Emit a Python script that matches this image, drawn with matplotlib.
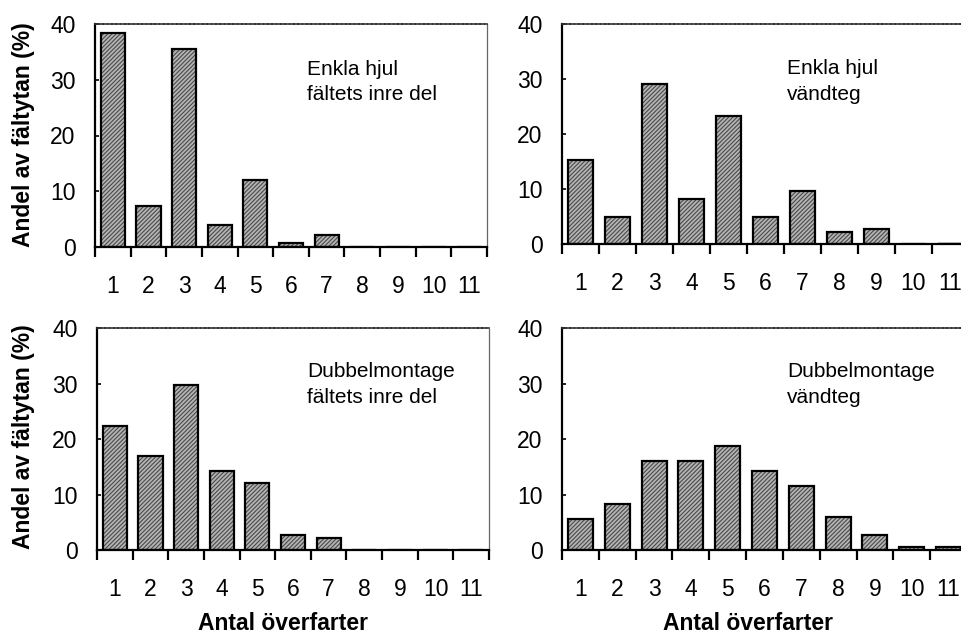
import matplotlib
matplotlib.use("Agg")
import matplotlib.pyplot as plt
import numpy as np

# Number of passes (Antal överfarter)
passes = [1, 2, 3, 4, 5, 6, 7, 8, 9, 10, 11]
tick_labels = [str(p) for p in passes]
y_ticks = [0, 10, 20, 30, 40]

# Share of field area (%) for each wheel type / field zone
enkla_inre = [38.4, 7.3, 35.6, 4.0, 12.0, 0.7, 2.2, 0, 0, 0, 0]
enkla_vandteg = [15.2, 4.9, 29.1, 8.2, 23.3, 4.9, 9.7, 2.2, 2.8, 0, 0]
dubbel_inre = [22.4, 17.0, 29.8, 14.2, 12.1, 2.7, 2.1, 0, 0, 0, 0]
dubbel_vandteg = [5.5, 8.3, 16.1, 16.1, 18.8, 14.3, 11.6, 6.0, 2.7, 0.55, 0.55]

panel_titles = [
    ("Enkla hjul", "fältets inre del"),
    ("Enkla hjul", "vändteg"),
    ("Dubbelmontage", "fältets inre del"),
    ("Dubbelmontage", "vändteg"),
]
y_label = "Andel av fältytan (%)"
x_label = "Antal överfarter"

W, H = 961, 636
fig = plt.figure(figsize=(W / 100, H / 100), dpi=100)

def px_axes(left, right, top, bottom):
    return fig.add_axes([left / W, 1 - bottom / H, (right - left) / W, (bottom - top) / H])

axes = [
    px_axes(95, 487, 24, 247),
    px_axes(562, 969, 24, 244),
    px_axes(97, 489, 328, 550),
    px_axes(562, 967, 328, 550),
]
series = [enkla_inre, enkla_vandteg, dubbel_inre, dubbel_vandteg]
text_pos = [
    (0.541, 0.771, 0.659),
    (0.553, 0.773, 0.655),
    (0.536, 0.779, 0.662),
    (0.556, 0.779, 0.662),
]

tick_font = dict(family="Liberation Sans", size=16.5)
plt.rcParams["hatch.linewidth"] = 0.8

for ax, vals, (l1, l2), (tx, ty1, ty2) in zip(axes, series, panel_titles, text_pos):
    # hatched fill
    ax.bar(passes, vals, width=0.68, color="#b4b4b4", edgecolor="#4a4a4a",
           linewidth=0, hatch="////////", zorder=2)
    # outlines
    ax.bar(passes, vals, width=0.68, fill=False, edgecolor="black",
           linewidth=1.6, zorder=3)
    ax.set_xlim(0.5, 11.5)
    ax.set_ylim(0, 40)

    for side in ("left", "bottom"):
        ax.spines[side].set_linewidth(1.6)
        ax.spines[side].set_color("black")
    ax.spines["top"].set_linewidth(1.2)
    ax.spines["top"].set_color("#333333")
    ax.spines["top"].set_linestyle((0, (2, 0.6)))
    ax.spines["right"].set_linewidth(0.9)
    ax.spines["right"].set_color("#666666")
    ax.spines["right"].set_linestyle((0, (1, 1)))
    ax.spines["bottom"].set_zorder(4)

    ax.set_xticks(passes)
    ax.set_xticklabels(tick_labels, fontdict=tick_font)
    ax.set_xticks(np.arange(0.5, 12.0, 1.0), minor=True)
    ax.tick_params(axis="x", which="major", length=0, pad=20)
    ax.tick_params(axis="x", which="minor", direction="out", length=7, width=1.6)

    ax.set_yticks(y_ticks)
    ax.set_yticklabels([str(v) for v in y_ticks], fontdict=tick_font)
    ax.tick_params(axis="y", which="major", direction="in", length=3, width=1.2, pad=14)

    ax.text(tx, ty1, l1, transform=ax.transAxes, fontsize=15,
            family="Liberation Sans", va="baseline", ha="left")
    ax.text(tx, ty2, l2, transform=ax.transAxes, fontsize=15,
            family="Liberation Sans", va="baseline", ha="left")

label_font = dict(family="Liberation Sans", fontsize=16.5, fontweight="bold")
fig.text(24 / W, 1 - 135 / H, y_label, rotation=90, ha="center", va="center", **label_font)
fig.text(24 / W, 1 - 437 / H, y_label, rotation=90, ha="center", va="center", **label_font)
fig.text(283 / W, 1 - 630 / H, x_label, ha="center", va="baseline", **label_font)
fig.text(748 / W, 1 - 630 / H, x_label, ha="center", va="baseline", **label_font)

fig.savefig("out.png", dpi=100, facecolor="white")
